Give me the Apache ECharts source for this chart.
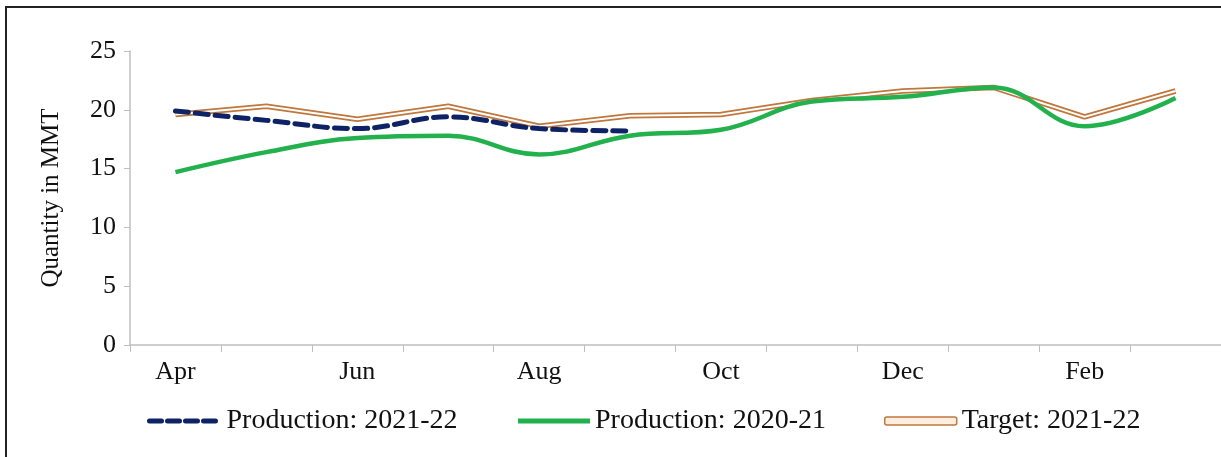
<!DOCTYPE html>
<html>
<head>
<meta charset="utf-8">
<script src="https://cdn.jsdelivr.net/npm/echarts@6/dist/echarts.min.js"></script>
<style>
  html,body{margin:0;padding:0;background:#fff;}
  #chart{width:1221px;height:457px;}
</style>
</head>
<body>
<div id="chart"></div>
<script>
// 月份（4月到次年3月）
var months = ['Apr','May','Jun','Jul','Aug','Sep','Oct','Nov','Dec','Jan','Feb','Mar'];
// 产量 2021-22（只到9月）
var prod2122 = [19.9, 19.1, 18.4, 19.4, 18.4, 18.2];
// 产量 2020-21
var prod2021 = [14.7, 16.4, 17.6, 17.8, 16.2, 17.8, 18.3, 20.7, 21.1, 21.9, 18.6, 21.0];
// 目标 2021-22
var target2122 = [19.6, 20.3, 19.2, 20.3, 18.6, 19.5, 19.6, 20.8, 21.6, 21.9, 19.4, 21.6];
var yTicks = [0, 5, 10, 15, 20, 25];

var fontName = 'Liberation Serif';
var orange = '#c0773d';
var green = '#22b14c';
var navy = '#0d2366';

var chart = echarts.init(document.getElementById('chart'));
var option = {
    animation: false,
    graphic: [{
        type: 'rect',
        z: -1,
        shape: {x: 6, y: 7, width: 1240, height: 470},
        style: {fill: 'none', stroke: '#222', lineWidth: 2}
    }],
    grid: {
        left: 130,
        right: 0,
        top: 51,
        bottom: 112,
        containLabel: false
    },
    legend: {
        left: 142,
        top: 402,
        itemWidth: 72,
        itemHeight: 8,
        itemGap: 58,
        textStyle: {fontFamily: fontName, fontSize: 28, color: '#111'},
        data: [
            {name: 'Production: 2021-22',
             itemStyle: {opacity: 0},
             lineStyle: {color: navy, width: 5, type: [12, 6], cap: 'round'}},
            {name: 'Production: 2020-21',
             itemStyle: {opacity: 0},
             lineStyle: {color: green, width: 5}},
            {name: 'Target: 2021-22', icon: 'roundRect',
             itemStyle: {color: '#fdeee0', borderColor: orange, borderWidth: 1.5}}
        ]
    },
    xAxis: {
        type: 'category',
        boundaryGap: true,
        data: months,
        axisLine: {lineStyle: {color: '#bfbfbf', width: 1.5}},
        axisTick: {show: true, interval: 0, length: 7, lineStyle: {color: '#bfbfbf'}},
        axisLabel: {
            interval: 1,
            margin: 14,
            fontFamily: fontName,
            fontSize: 26,
            color: '#111'
        },
        splitLine: {show: false}
    },
    yAxis: {
        type: 'value',
        min: yTicks[0],
        max: yTicks[yTicks.length - 1],
        interval: 5,
        name: 'Quantity in MMT',
        nameLocation: 'middle',
        nameGap: 66,
        nameTextStyle: {fontFamily: fontName, fontSize: 25, color: '#111'},
        axisLine: {show: true, lineStyle: {color: '#bfbfbf', width: 1.5}},
        axisTick: {show: true, length: 6, lineStyle: {color: '#bfbfbf'}},
        axisLabel: {margin: 14, fontFamily: fontName, fontSize: 26, color: '#111'},
        splitLine: {show: false}
    },
    series: [
        {
            name: 'Target: 2021-22',
            type: 'line',
            data: target2122,
            symbol: 'none',
            lineStyle: {color: orange, width: 5.5},
            itemStyle: {color: orange}
        },
        {
            // 目标线中间的白线，做成双线效果
            name: 'target-inner',
            type: 'line',
            data: target2122,
            symbol: 'none',
            silent: true,
            lineStyle: {color: '#fff', width: 2},
            itemStyle: {color: '#fff'}
        },
        {
            name: 'Production: 2020-21',
            type: 'line',
            data: prod2021,
            smooth: 0.4,
            symbol: 'none',
            lineStyle: {color: green, width: 4.5},
            itemStyle: {color: green}
        },
        {
            name: 'Production: 2021-22',
            type: 'line',
            data: prod2122,
            smooth: 0.4,
            symbol: 'none',
            lineStyle: {color: navy, width: 5, type: [13, 7], cap: 'round'},
            itemStyle: {color: navy}
        }
    ]
};
chart.setOption(option);
</script>
</body>
</html>
